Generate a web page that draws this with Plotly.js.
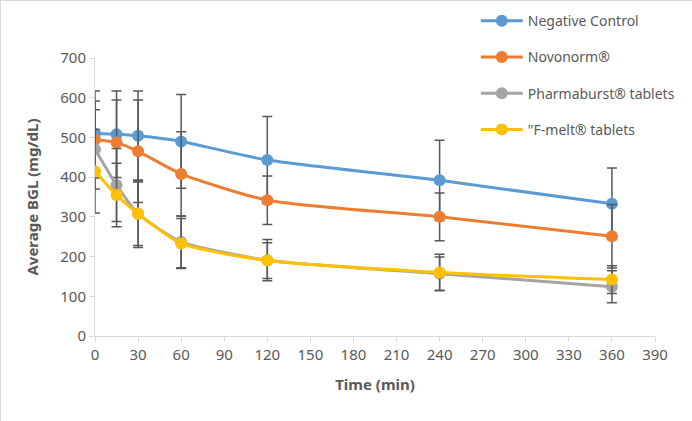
<!DOCTYPE html>
<html>
<head>
<meta charset="utf-8">
<script src="https://cdn.plot.ly/plotly-3.0.1.min.js"></script>
<style>
  html, body { margin: 0; padding: 0; background: #fff; }
  #chart { width: 692px; height: 421px; box-sizing: border-box; border: 1px solid #d9d9d9; }
</style>
</head>
<body>
<div id="chart"></div>
<script>
// Tiempos de muestreo (min)
const tiempos = [0, 15, 30, 60, 120, 240, 360];

// Medias de glucemia (mg/dL)
const controlNegativo = [510, 508, 504, 490, 443, 392, 333];
const novonorm = [495, 487, 465, 408, 342, 300, 251];
const pharmaburst = [470, 380, 308, 237, 191, 157, 124];
const fmelt = [415, 355, 308, 233, 190, 160, 142];

// Desviaciones (barras de error)
const errControl = [107, 109, 113, 118, 110, 101, 90];
const errNovonorm = [97, 107, 129, 106, 61, 60, 80];
const errPharmaburst = [100, 92, 85, 65, 52, 42, 40];
const errFmelt = [105, 80, 80, 63, 45, 46, 35];

const nombres = ["Negative Control", "Novonorm®", "Pharmaburst® tablets", "\"F-melt® tablets"];
const colores = ["#5B9BD5", "#ED7D31", "#A5A5A5", "#FFC000"];

const series = [controlNegativo, novonorm, pharmaburst, fmelt];
const errores = [errControl, errNovonorm, errPharmaburst, errFmelt];

const fuente = "Noto Sans, Open Sans, sans-serif";
const gris = "#595959";

// --- Trazas ---
const data = series.map((ys, i) => ({
    x: tiempos,
    y: ys,
    name: nombres[i],
    legendgroup: 'g' + i,
    type: 'scatter',
    mode: 'lines+markers',
    line: {color: colores[i], width: 3, shape: 'spline', smoothing: 0.6},
    marker: {color: colores[i], size: 12},
    error_y: {
        type: 'data',
        array: errores[i],
        visible: true,
        color: gris,
        thickness: 1.5,
        width: 5
    }
}));

const layout = {
    width: 692,
    height: 421,
    margin: {l: 94, r: 38, t: 57, b: 86, autoexpand: false},
    paper_bgcolor: '#ffffff',
    plot_bgcolor: '#ffffff',
    font: {family: fuente, color: gris, size: 15},
    showlegend: true,
    legend: {
        x: 0.68, y: 1.19,
        xanchor: 'left', yanchor: 'top',
        font: {family: fuente, size: 14, color: gris},
        tracegroupgap: 15,
        itemwidth: 42,
        bgcolor: 'rgba(255,255,255,0)'
    },
    xaxis: {
        range: [0, 390],
        tickmode: 'linear', tick0: 0, dtick: 30,
        showgrid: false, zeroline: false,
        showline: true, linecolor: '#d9d9d9', linewidth: 1,
        ticks: 'outside', tickcolor: '#d9d9d9', ticklen: 5,
        tickfont: {size: 15, color: gris},
        title: {text: '<b>Time (min)</b>', font: {size: 15, color: gris}, standoff: 16}
    },
    yaxis: {
        range: [0, 700],
        tickmode: 'linear', tick0: 0, dtick: 100,
        showgrid: false, zeroline: false,
        showline: true, linecolor: '#d9d9d9', linewidth: 1,
        ticks: 'outside', tickcolor: '#d9d9d9', ticklen: 5,
        tickfont: {size: 15, color: gris},
        title: {text: '<b>Average BGL (mg/dL)</b>', font: {size: 15, color: gris}, standoff: 18}
    }
};

Plotly.newPlot('chart', data, layout, {displayModeBar: false, staticPlot: true});
</script>
</body>
</html>
